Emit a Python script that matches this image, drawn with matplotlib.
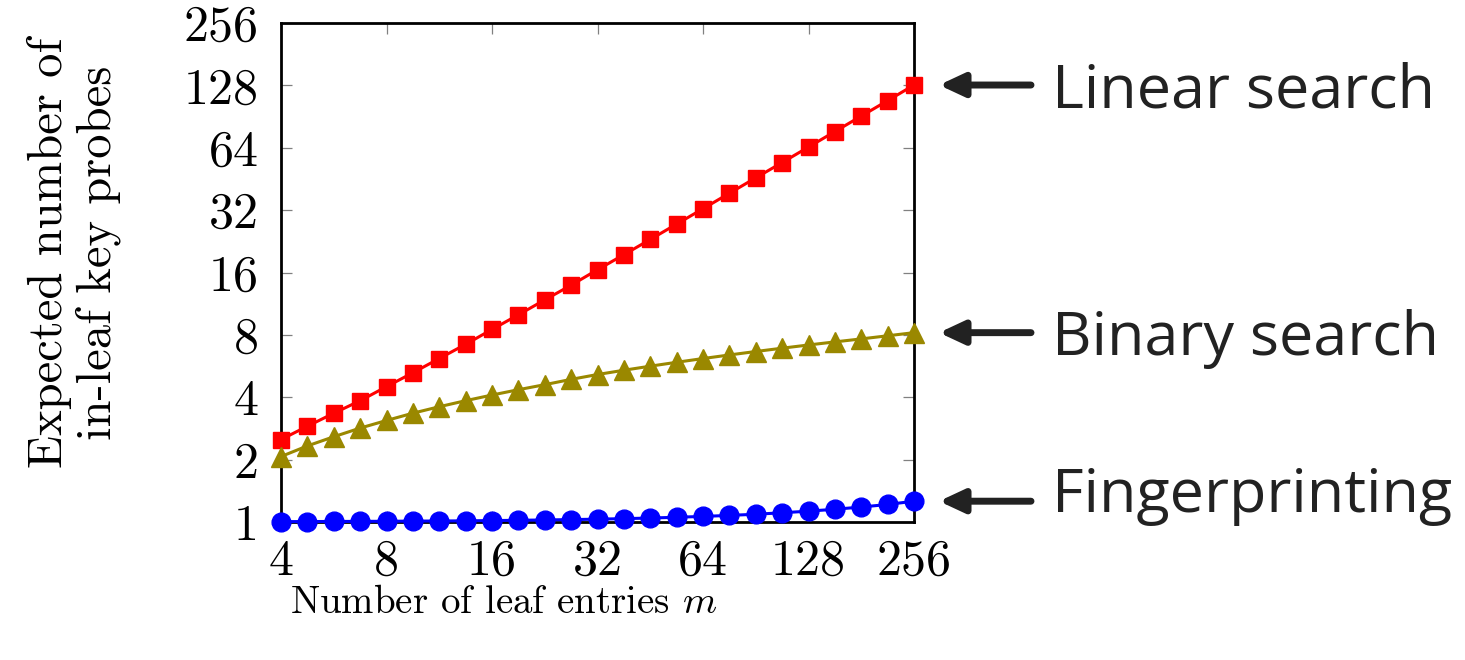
import matplotlib
matplotlib.use("Agg")

import matplotlib.pyplot as plt
from matplotlib.patches import FancyArrowPatch


# leaf sizes m (4 points per doubling) and expected probes
leaf_entries = [4, 4.76, 5.66, 6.73, 8, 9.51, 11.31, 13.45, 16, 19.03, 22.63, 26.91, 32,
                38.05, 45.25, 53.82, 64, 76.11, 90.51, 107.63, 128, 152.22, 181.02, 215.27, 256]

linear_search = [2.5, 2.9, 3.35, 3.85, 4.5, 5.25, 6.15, 7.2, 8.5, 10.0, 11.8, 13.9, 16.5,
                 19.5, 23.1, 27.4, 32.5, 38.6, 45.8, 54.3, 64.5, 76.6, 91.0, 108.0, 128.5]

binary_search = [2.07, 2.33, 2.58, 2.84, 3.09, 3.35, 3.6, 3.85, 4.1, 4.35, 4.6, 4.88, 5.15,
                 5.4, 5.65, 5.9, 6.15, 6.4, 6.65, 6.9, 7.15, 7.4, 7.65, 7.92, 8.2]

fingerprinting = [1.004, 1.005, 1.006, 1.007, 1.008, 1.01, 1.011, 1.013, 1.016, 1.019,
                  1.023, 1.027, 1.032, 1.038, 1.045, 1.054, 1.064, 1.076, 1.09, 1.108,
                  1.128, 1.152, 1.181, 1.215, 1.26]

tick_values = [1, 2, 4, 8, 16, 32, 64, 128, 256]
x_tick_values = [4, 8, 16, 32, 64, 128, 256]

series_names = ["Linear search", "Binary search", "Fingerprinting"]
# where each arrow points (value at the last m)
series_end_values = [128.5, 8.2, 1.26]


plt.rcParams["font.family"] = "cmr10"
plt.rcParams["mathtext.fontset"] = "cm"
plt.rcParams["axes.formatter.use_mathtext"] = True

W, H = 1465, 660
fig = plt.figure(figsize=(W / 100, H / 100), dpi=100)
ax = fig.add_axes([281 / W, 1 - 522 / H, (914 - 281) / W, (522 - 23) / H])

ax.plot(leaf_entries, linear_search, color="#ff0000", lw=2.2, marker="s",
        markersize=11.5, markeredgewidth=1, clip_on=False, zorder=4)
ax.plot(leaf_entries, binary_search, color="#9a8800", lw=2.2, marker="^",
        markersize=14, markeredgewidth=1, clip_on=False, zorder=4)
ax.plot(leaf_entries, fingerprinting, color="#0000ff", lw=2.2, marker="o",
        markersize=13.5, markeredgewidth=1, clip_on=False, zorder=4)

ax.set_xscale("log", base=2)
ax.set_yscale("log", base=2)
ax.set_xlim(4, 256)
ax.set_ylim(1, 256)

ax.set_xticks(x_tick_values)
ax.set_xticklabels([str(v) for v in x_tick_values])
ax.set_yticks(tick_values)
ax.set_yticklabels([str(v) for v in tick_values])
ax.minorticks_off()

ax.tick_params(direction="in", length=8, width=0.9, color="#808080",
               top=True, right=True, labelsize=36)
ax.tick_params(axis="x", pad=12)
ax.tick_params(axis="y", pad=16)

for side in ax.spines:
    ax.spines[side].set_linewidth(2.0)

fig.text(74 / W, 1 - 253 / H, "Expected number of\nin-leaf key probes",
         rotation=90, ha="center", va="center", multialignment="center",
         fontsize=35, linespacing=1.1)
fig.text(504 / W, 1 - 613 / H, "Number of leaf entries $m$",
         ha="center", va="baseline", fontsize=28)

# labels with arrows on the right side
text_baselines = [108, 355, 512]
for name, end_value, baseline in zip(series_names, series_end_values, text_baselines):
    y_disp = ax.transData.transform((256, end_value))[1]
    y_fig = y_disp / H
    arrow = FancyArrowPatch((1031 / W, y_fig), (939 / W, y_fig),
                            transform=fig.transFigure,
                            arrowstyle="-|>,head_length=15,head_width=7",
                            mutation_scale=1, lw=5, color="#222222",
                            shrinkA=0, shrinkB=0)
    fig.add_artist(arrow)
    fig.text(1052 / W, 1 - baseline / H, name, family="Open Sans",
             fontsize=44, color="#222222", ha="left", va="baseline")

plt.savefig("out.png", dpi=100)
